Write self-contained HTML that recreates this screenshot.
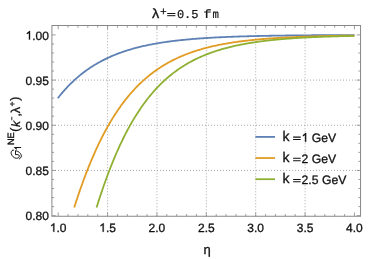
<!DOCTYPE html>
<html><head><meta charset="utf-8"><title>plot</title>
<style>html,body{margin:0;padding:0;background:#fff;}svg{display:block;}text{font-family:"Liberation Sans",sans-serif;text-rendering:geometricPrecision;stroke:#111111;stroke-width:0.3px;}</style></head>
<body>
<svg width="369" height="259" viewBox="0 0 369 259">
<rect x="0" y="0" width="369" height="259" fill="#ffffff"/>
<path d="M107.58 25.50V216.25M156.95 25.50V216.25M206.32 25.50V216.25M255.70 25.50V216.25M305.07 25.50V216.25" fill="none" stroke="#a8a8a8" stroke-width="1" stroke-dasharray="1 2" stroke-dashoffset="2.2"/>
<path d="M51.90 170.44H360.55M51.90 125.26H360.55M51.90 80.08H360.55" fill="none" stroke="#a8a8a8" stroke-width="1" stroke-dasharray="1 2" stroke-dashoffset="2.9"/>
<path d="M57.80 98.24L58.79 96.98L59.78 95.75L60.77 94.55L61.76 93.36L62.75 92.20L63.74 91.07L64.73 89.95L65.72 88.86L66.70 87.79L67.69 86.74L68.68 85.72L69.67 84.71L70.66 83.72L71.65 82.75L72.64 81.80L73.63 80.87L74.61 79.96L75.60 79.07L76.59 78.19L77.58 77.33L78.57 76.49L79.56 75.67L80.55 74.86L81.54 74.07L82.53 73.29L83.51 72.53L84.50 71.78L85.49 71.05L86.48 70.34L87.47 69.63L88.46 68.94L89.45 68.27L90.44 67.61L91.42 66.96L92.41 66.32L93.40 65.70L94.39 65.09L95.38 64.49L96.37 63.90L97.36 63.33L98.35 62.77L99.34 62.21L100.32 61.67L101.31 61.14L102.30 60.62L103.29 60.11L104.28 59.61L105.27 59.12L106.26 58.64L107.25 58.17L108.23 57.71L109.22 57.26L110.21 56.81L111.20 56.38L112.19 55.95L113.18 55.54L114.17 55.13L115.16 54.73L116.15 54.33L117.13 53.95L118.12 53.57L119.11 53.20L120.10 52.84L121.09 52.48L122.08 52.13L123.07 51.79L124.06 51.46L125.04 51.13L126.03 50.81L127.02 50.49L128.01 50.18L129.00 49.88L129.99 49.58L130.98 49.29L131.97 49.00L132.96 48.72L133.94 48.45L134.93 48.18L135.92 47.92L136.91 47.66L137.90 47.41L138.89 47.16L139.88 46.92L140.87 46.68L141.85 46.44L142.84 46.22L143.83 45.99L144.82 45.77L145.81 45.56L146.80 45.34L147.79 45.14L148.78 44.93L149.76 44.74L150.75 44.54L151.74 44.35L152.73 44.16L153.72 43.98L154.71 43.80L155.70 43.62L156.69 43.45L157.68 43.28L158.66 43.11L159.65 42.95L160.64 42.79L161.63 42.63L162.62 42.48L163.61 42.33L164.60 42.18L165.59 42.04L166.57 41.90L167.56 41.76L168.55 41.62L169.54 41.49L170.53 41.36L171.52 41.23L172.51 41.11L173.50 40.98L174.49 40.86L175.47 40.74L176.46 40.63L177.45 40.51L178.44 40.40L179.43 40.29L180.42 40.19L181.41 40.08L182.40 39.98L183.38 39.88L184.37 39.78L185.36 39.68L186.35 39.59L187.34 39.50L188.33 39.40L189.32 39.31L190.31 39.23L191.30 39.14L192.28 39.06L193.27 38.97L194.26 38.89L195.25 38.81L196.24 38.74L197.23 38.66L198.22 38.59L199.21 38.51L200.19 38.44L201.18 38.37L202.17 38.30L203.16 38.24L204.15 38.17L205.14 38.10L206.13 38.04L207.12 37.98L208.11 37.92L209.09 37.86L210.08 37.80L211.07 37.74L212.06 37.69L213.05 37.63L214.04 37.58L215.03 37.52L216.02 37.47L217.00 37.42L217.99 37.37L218.98 37.32L219.97 37.27L220.96 37.23L221.95 37.18L222.94 37.13L223.93 37.09L224.92 37.05L225.90 37.00L226.89 36.96L227.88 36.92L228.87 36.88L229.86 36.84L230.85 36.80L231.84 36.77L232.83 36.73L233.81 36.69L234.80 36.66L235.79 36.62L236.78 36.59L237.77 36.55L238.76 36.52L239.75 36.49L240.74 36.46L241.72 36.43L242.71 36.40L243.70 36.37L244.69 36.34L245.68 36.31L246.67 36.28L247.66 36.25L248.65 36.23L249.64 36.20L250.62 36.18L251.61 36.15L252.60 36.13L253.59 36.10L254.58 36.08L255.57 36.05L256.56 36.03L257.55 36.01L258.53 35.99L259.52 35.97L260.51 35.94L261.50 35.92L262.49 35.90L263.48 35.88L264.47 35.86L265.46 35.84L266.45 35.83L267.43 35.81L268.42 35.79L269.41 35.77L270.40 35.75L271.39 35.74L272.38 35.72L273.37 35.70L274.36 35.69L275.34 35.67L276.33 35.66L277.32 35.64L278.31 35.63L279.30 35.61L280.29 35.60L281.28 35.59L282.27 35.57L283.26 35.56L284.24 35.55L285.23 35.53L286.22 35.52L287.21 35.51L288.20 35.50L289.19 35.48L290.18 35.47L291.17 35.46L292.15 35.45L293.14 35.44L294.13 35.43L295.12 35.42L296.11 35.41L297.10 35.40L298.09 35.39L299.08 35.38L300.07 35.37L301.05 35.36L302.04 35.35L303.03 35.34L304.02 35.33L305.01 35.32L306.00 35.32L306.99 35.31L307.98 35.30L308.96 35.29L309.95 35.28L310.94 35.28L311.93 35.27L312.92 35.26L313.91 35.25L314.90 35.25L315.89 35.24L316.87 35.23L317.86 35.23L318.85 35.22L319.84 35.21L320.83 35.21L321.82 35.20L322.81 35.20L323.80 35.19L324.79 35.18L325.77 35.18L326.76 35.17L327.75 35.17L328.74 35.16L329.73 35.16L330.72 35.15L331.71 35.15L332.70 35.14L333.68 35.14L334.67 35.13L335.66 35.13L336.65 35.12L337.64 35.12L338.63 35.11L339.62 35.11L340.61 35.11L341.60 35.10L342.58 35.10L343.57 35.09L344.56 35.09L345.55 35.09L346.54 35.08L347.53 35.08L348.52 35.08L349.51 35.07L350.49 35.07L351.48 35.07L352.47 35.06L353.46 35.06L354.45 35.06" fill="none" stroke="#5e81b5" stroke-width="1.8" stroke-linejoin="round" stroke-linecap="butt"/>
<path d="M74.24 207.46L74.61 206.28L75.60 203.20L76.59 200.16L77.58 197.17L78.57 194.23L79.56 191.34L80.55 188.49L81.54 185.69L82.53 182.94L83.51 180.23L84.50 177.57L85.49 174.95L86.48 172.37L87.47 169.84L88.46 167.35L89.45 164.90L90.44 162.50L91.42 160.13L92.41 157.81L93.40 155.52L94.39 153.28L95.38 151.07L96.37 148.90L97.36 146.77L98.35 144.68L99.34 142.62L100.32 140.60L101.31 138.61L102.30 136.66L103.29 134.75L104.28 132.86L105.27 131.02L106.26 129.20L107.25 127.42L108.23 125.67L109.22 123.95L110.21 122.26L111.20 120.60L112.19 118.97L113.18 117.37L114.17 115.80L115.16 114.26L116.15 112.75L117.13 111.26L118.12 109.81L119.11 108.37L120.10 106.97L121.09 105.59L122.08 104.24L123.07 102.91L124.06 101.60L125.04 100.32L126.03 99.07L127.02 97.83L128.01 96.62L129.00 95.43L129.99 94.27L130.98 93.12L131.97 92.00L132.96 90.90L133.94 89.82L134.93 88.76L135.92 87.72L136.91 86.70L137.90 85.69L138.89 84.71L139.88 83.75L140.87 82.80L141.85 81.87L142.84 80.96L143.83 80.07L144.82 79.19L145.81 78.33L146.80 77.49L147.79 76.66L148.78 75.85L149.76 75.05L150.75 74.27L151.74 73.50L152.73 72.75L153.72 72.02L154.71 71.29L155.70 70.58L156.69 69.89L157.68 69.20L158.66 68.53L159.65 67.88L160.64 67.23L161.63 66.60L162.62 65.98L163.61 65.38L164.60 64.78L165.59 64.20L166.57 63.62L167.56 63.06L168.55 62.51L169.54 61.97L170.53 61.44L171.52 60.92L172.51 60.41L173.50 59.91L174.49 59.42L175.47 58.94L176.46 58.47L177.45 58.01L178.44 57.55L179.43 57.11L180.42 56.67L181.41 56.24L182.40 55.83L183.38 55.41L184.37 55.01L185.36 54.62L186.35 54.23L187.34 53.85L188.33 53.48L189.32 53.11L190.31 52.75L191.30 52.40L192.28 52.06L193.27 51.72L194.26 51.39L195.25 51.07L196.24 50.75L197.23 50.44L198.22 50.13L199.21 49.83L200.19 49.54L201.18 49.25L202.17 48.96L203.16 48.69L204.15 48.42L205.14 48.15L206.13 47.89L207.12 47.63L208.11 47.38L209.09 47.14L210.08 46.89L211.07 46.66L212.06 46.43L213.05 46.20L214.04 45.98L215.03 45.76L216.02 45.54L217.00 45.33L217.99 45.13L218.98 44.92L219.97 44.73L220.96 44.53L221.95 44.34L222.94 44.16L223.93 43.97L224.92 43.79L225.90 43.62L226.89 43.45L227.88 43.28L228.87 43.11L229.86 42.95L230.85 42.79L231.84 42.64L232.83 42.48L233.81 42.33L234.80 42.19L235.79 42.04L236.78 41.90L237.77 41.76L238.76 41.63L239.75 41.49L240.74 41.36L241.72 41.24L242.71 41.11L243.70 40.99L244.69 40.87L245.68 40.75L246.67 40.63L247.66 40.52L248.65 40.41L249.64 40.30L250.62 40.19L251.61 40.09L252.60 39.99L253.59 39.89L254.58 39.79L255.57 39.69L256.56 39.60L257.55 39.50L258.53 39.41L259.52 39.32L260.51 39.23L261.50 39.15L262.49 39.06L263.48 38.98L264.47 38.90L265.46 38.82L266.45 38.74L267.43 38.67L268.42 38.59L269.41 38.52L270.40 38.45L271.39 38.38L272.38 38.31L273.37 38.24L274.36 38.18L275.34 38.11L276.33 38.05L277.32 37.99L278.31 37.92L279.30 37.86L280.29 37.81L281.28 37.75L282.27 37.69L283.26 37.64L284.24 37.58L285.23 37.53L286.22 37.48L287.21 37.43L288.20 37.38L289.19 37.33L290.18 37.28L291.17 37.23L292.15 37.19L293.14 37.14L294.13 37.10L295.12 37.05L296.11 37.01L297.10 36.97L298.09 36.93L299.08 36.89L300.07 36.85L301.05 36.81L302.04 36.77L303.03 36.73L304.02 36.70L305.01 36.66L306.00 36.63L306.99 36.59L307.98 36.56L308.96 36.53L309.95 36.49L310.94 36.46L311.93 36.43L312.92 36.40L313.91 36.37L314.90 36.34L315.89 36.31L316.87 36.29L317.86 36.26L318.85 36.23L319.84 36.21L320.83 36.18L321.82 36.15L322.81 36.13L323.80 36.10L324.79 36.08L325.77 36.06L326.76 36.03L327.75 36.01L328.74 35.99L329.73 35.97L330.72 35.95L331.71 35.93L332.70 35.91L333.68 35.89L334.67 35.87L335.66 35.85L336.65 35.83L337.64 35.81L338.63 35.79L339.62 35.77L340.61 35.76L341.60 35.74L342.58 35.72L343.57 35.71L344.56 35.69L345.55 35.68L346.54 35.66L347.53 35.65L348.52 35.63L349.51 35.62L350.49 35.60L351.48 35.59L352.47 35.57L353.46 35.56L354.45 35.55" fill="none" stroke="#e19c24" stroke-width="1.8" stroke-linejoin="round" stroke-linecap="butt"/>
<path d="M96.58 207.46L97.36 204.99L98.35 201.88L99.34 198.82L100.32 195.80L101.31 192.84L102.30 189.92L103.29 187.04L104.28 184.22L105.27 181.44L106.26 178.70L107.25 176.01L108.23 173.37L109.22 170.77L110.21 168.21L111.20 165.70L112.19 163.23L113.18 160.81L114.17 158.42L115.16 156.08L116.15 153.77L117.13 151.51L118.12 149.29L119.11 147.11L120.10 144.96L121.09 142.86L122.08 140.79L123.07 138.76L124.06 136.77L125.04 134.81L126.03 132.89L127.02 131.00L128.01 129.15L129.00 127.33L129.99 125.54L130.98 123.79L131.97 122.07L132.96 120.38L133.94 118.73L134.93 117.10L135.92 115.51L136.91 113.94L137.90 112.40L138.89 110.90L139.88 109.42L140.87 107.97L141.85 106.54L142.84 105.15L143.83 103.78L144.82 102.43L145.81 101.11L146.80 99.82L147.79 98.55L148.78 97.31L149.76 96.08L150.75 94.89L151.74 93.71L152.73 92.56L153.72 91.43L154.71 90.32L155.70 89.23L156.69 88.17L157.68 87.12L158.66 86.10L159.65 85.09L160.64 84.11L161.63 83.14L162.62 82.19L163.61 81.26L164.60 80.35L165.59 79.45L166.57 78.58L167.56 77.72L168.55 76.87L169.54 76.05L170.53 75.24L171.52 74.44L172.51 73.66L173.50 72.90L174.49 72.15L175.47 71.42L176.46 70.70L177.45 69.99L178.44 69.30L179.43 68.62L180.42 67.95L181.41 67.30L182.40 66.66L183.38 66.03L184.37 65.42L185.36 64.82L186.35 64.23L187.34 63.65L188.33 63.08L189.32 62.52L190.31 61.98L191.30 61.44L192.28 60.92L193.27 60.40L194.26 59.90L195.25 59.40L196.24 58.92L197.23 58.44L198.22 57.98L199.21 57.52L200.19 57.07L201.18 56.64L202.17 56.21L203.16 55.78L204.15 55.37L205.14 54.97L206.13 54.57L207.12 54.18L208.11 53.80L209.09 53.42L210.08 53.06L211.07 52.70L212.06 52.35L213.05 52.00L214.04 51.66L215.03 51.33L216.02 51.00L217.00 50.69L217.99 50.37L218.98 50.07L219.97 49.77L220.96 49.47L221.95 49.18L222.94 48.90L223.93 48.62L224.92 48.35L225.90 48.08L226.89 47.82L227.88 47.57L228.87 47.32L229.86 47.07L230.85 46.83L231.84 46.59L232.83 46.36L233.81 46.13L234.80 45.91L235.79 45.69L236.78 45.48L237.77 45.27L238.76 45.06L239.75 44.86L240.74 44.67L241.72 44.47L242.71 44.28L243.70 44.10L244.69 43.91L245.68 43.74L246.67 43.56L247.66 43.39L248.65 43.22L249.64 43.06L250.62 42.89L251.61 42.74L252.60 42.58L253.59 42.43L254.58 42.28L255.57 42.13L256.56 41.99L257.55 41.85L258.53 41.71L259.52 41.58L260.51 41.44L261.50 41.31L262.49 41.19L263.48 41.06L264.47 40.94L265.46 40.82L266.45 40.70L267.43 40.59L268.42 40.48L269.41 40.36L270.40 40.26L271.39 40.15L272.38 40.05L273.37 39.94L274.36 39.84L275.34 39.75L276.33 39.65L277.32 39.56L278.31 39.46L279.30 39.37L280.29 39.28L281.28 39.20L282.27 39.11L283.26 39.03L284.24 38.95L285.23 38.87L286.22 38.79L287.21 38.71L288.20 38.64L289.19 38.56L290.18 38.49L291.17 38.42L292.15 38.35L293.14 38.28L294.13 38.21L295.12 38.15L296.11 38.08L297.10 38.02L298.09 37.96L299.08 37.90L300.07 37.84L301.05 37.78L302.04 37.72L303.03 37.67L304.02 37.61L305.01 37.56L306.00 37.51L306.99 37.45L307.98 37.40L308.96 37.35L309.95 37.30L310.94 37.26L311.93 37.21L312.92 37.16L313.91 37.12L314.90 37.08L315.89 37.03L316.87 36.99L317.86 36.95L318.85 36.91L319.84 36.87L320.83 36.83L321.82 36.79L322.81 36.75L323.80 36.72L324.79 36.68L325.77 36.65L326.76 36.61L327.75 36.58L328.74 36.54L329.73 36.51L330.72 36.48L331.71 36.45L332.70 36.42L333.68 36.39L334.67 36.36L335.66 36.33L336.65 36.30L337.64 36.27L338.63 36.25L339.62 36.22L340.61 36.19L341.60 36.17L342.58 36.14L343.57 36.12L344.56 36.09L345.55 36.07L346.54 36.05L347.53 36.02L348.52 36.00L349.51 35.98L350.49 35.96L351.48 35.94L352.47 35.92L353.46 35.90L354.45 35.88" fill="none" stroke="#8fb032" stroke-width="1.8" stroke-linejoin="round" stroke-linecap="butt"/>
<rect x="51.9" y="25.5" width="308.65" height="190.75" fill="none" stroke="#888888" stroke-width="1"/>
<path d="M58.20 216.25v-3.8M58.20 25.50v3.8M68.08 216.25v-2.2M68.08 25.50v2.2M77.95 216.25v-2.2M77.95 25.50v2.2M87.83 216.25v-2.2M87.83 25.50v2.2M97.70 216.25v-2.2M97.70 25.50v2.2M107.58 216.25v-3.8M107.58 25.50v3.8M117.45 216.25v-2.2M117.45 25.50v2.2M127.33 216.25v-2.2M127.33 25.50v2.2M137.20 216.25v-2.2M137.20 25.50v2.2M147.07 216.25v-2.2M147.07 25.50v2.2M156.95 216.25v-3.8M156.95 25.50v3.8M166.83 216.25v-2.2M166.83 25.50v2.2M176.70 216.25v-2.2M176.70 25.50v2.2M186.57 216.25v-2.2M186.57 25.50v2.2M196.45 216.25v-2.2M196.45 25.50v2.2M206.32 216.25v-3.8M206.32 25.50v3.8M216.20 216.25v-2.2M216.20 25.50v2.2M226.08 216.25v-2.2M226.08 25.50v2.2M235.95 216.25v-2.2M235.95 25.50v2.2M245.82 216.25v-2.2M245.82 25.50v2.2M255.70 216.25v-3.8M255.70 25.50v3.8M265.57 216.25v-2.2M265.57 25.50v2.2M275.45 216.25v-2.2M275.45 25.50v2.2M285.32 216.25v-2.2M285.32 25.50v2.2M295.20 216.25v-2.2M295.20 25.50v2.2M305.07 216.25v-3.8M305.07 25.50v3.8M314.95 216.25v-2.2M314.95 25.50v2.2M324.82 216.25v-2.2M324.82 25.50v2.2M334.70 216.25v-2.2M334.70 25.50v2.2M344.57 216.25v-2.2M344.57 25.50v2.2M354.45 216.25v-3.8M354.45 25.50v3.8M51.90 215.62h3.8M360.55 215.62h-3.8M51.90 206.58h2.2M360.55 206.58h-2.2M51.90 197.55h2.2M360.55 197.55h-2.2M51.90 188.51h2.2M360.55 188.51h-2.2M51.90 179.48h2.2M360.55 179.48h-2.2M51.90 170.44h3.8M360.55 170.44h-3.8M51.90 161.40h2.2M360.55 161.40h-2.2M51.90 152.37h2.2M360.55 152.37h-2.2M51.90 143.33h2.2M360.55 143.33h-2.2M51.90 134.30h2.2M360.55 134.30h-2.2M51.90 125.26h3.8M360.55 125.26h-3.8M51.90 116.22h2.2M360.55 116.22h-2.2M51.90 107.19h2.2M360.55 107.19h-2.2M51.90 98.15h2.2M360.55 98.15h-2.2M51.90 89.12h2.2M360.55 89.12h-2.2M51.90 80.08h3.8M360.55 80.08h-3.8M51.90 71.04h2.2M360.55 71.04h-2.2M51.90 62.01h2.2M360.55 62.01h-2.2M51.90 52.97h2.2M360.55 52.97h-2.2M51.90 43.94h2.2M360.55 43.94h-2.2M51.90 34.90h3.8M360.55 34.90h-3.8" fill="none" stroke="#888888" stroke-width="0.8"/>
<defs><filter id="ga" x="0" y="0" width="369" height="259" filterUnits="userSpaceOnUse" color-interpolation-filters="sRGB"><feOffset dx="0" dy="0"/></filter></defs>
<g filter="url(#ga)" style="will-change:transform">
<path d="M54.33 231.80L53.28 231.80L53.28 225.08Q52.38 225.80 51.17 226.23L51.17 225.21Q52.86 224.36 53.65 223.21L54.33 223.21Z" fill="#111111" stroke="#111111" stroke-width="0.3"/>
<text x="56.53" y="231.8" font-size="12" fill="#111111">.0</text>
<path d="M103.71 231.80L102.65 231.80L102.65 225.08Q101.75 225.80 100.54 226.23L100.54 225.21Q102.23 224.36 103.03 223.21L103.71 223.21Z" fill="#111111" stroke="#111111" stroke-width="0.3"/>
<text x="105.91" y="231.8" font-size="12" fill="#111111">.5</text>
<text x="156.95" y="231.8" font-size="12" text-anchor="middle" fill="#111111">2.0</text>
<text x="206.32" y="231.8" font-size="12" text-anchor="middle" fill="#111111">2.5</text>
<text x="255.70" y="231.8" font-size="12" text-anchor="middle" fill="#111111">3.0</text>
<text x="305.07" y="231.8" font-size="12" text-anchor="middle" fill="#111111">3.5</text>
<text x="354.45" y="231.8" font-size="12" text-anchor="middle" fill="#111111">4.0</text>
<text x="48.9" y="220.32" font-size="12" text-anchor="end" fill="#111111">0.80</text>
<text x="48.9" y="175.14" font-size="12" text-anchor="end" fill="#111111">0.85</text>
<text x="48.9" y="129.96" font-size="12" text-anchor="end" fill="#111111">0.90</text>
<text x="48.9" y="84.78" font-size="12" text-anchor="end" fill="#111111">0.95</text>
<path d="M30.02 39.60L28.96 39.60L28.96 32.88Q28.07 33.60 26.86 34.03L26.86 33.01Q28.55 32.16 29.34 31.01L30.02 31.01Z" fill="#111111" stroke="#111111" stroke-width="0.3"/>
<text x="32.22" y="39.60" font-size="12" fill="#111111">.00</text>
<text x="207.1" y="253.9" font-size="13" text-anchor="middle" fill="#111111">η</text>
<text transform="translate(151.9 18.2) scale(1 0.92)" font-size="14.5" fill="#111111">λ</text>
<text x="160.2" y="14.5" font-size="10.8" fill="#111111">+</text>
<path d="M167.2 13.5H175.4M167.2 15.7H175.4" stroke="#111111" stroke-width="1.0" fill="none"/>
<text x="176.9" y="17.9" font-size="12" fill="#111111" style="font-family:'Liberation Mono',monospace;stroke-width:0.2px">0.5</text>
<text x="203.2" y="17.9" font-size="12" fill="#111111" style="font-family:'Liberation Mono',monospace;stroke-width:0.2px" textLength="8.5" lengthAdjust="spacingAndGlyphs">f</text>
<text x="212.6" y="17.9" font-size="12" fill="#111111" style="font-family:'Liberation Mono',monospace;stroke-width:0.2px" textLength="6.4" lengthAdjust="spacingAndGlyphs">m</text>
<path d="M255.4 136.90H275" stroke="#5e81b5" stroke-width="1.8" fill="none"/>
<text x="282.6" y="141.10" font-size="14" fill="#111111">k</text>
<path d="M293.1 137.10H300.7M293.1 139.50H300.7" stroke="#111111" stroke-width="1.05" fill="none"/>
<path d="M306.15 141.80L305.07 141.80L305.07 134.97Q304.16 135.70 302.93 136.14L302.93 135.10Q304.65 134.24 305.46 133.06L306.15 133.06Z" fill="#111111" stroke="#111111" stroke-width="0.3"/>
<text x="308.38" y="141.80" font-size="12.2" fill="#111111" xml:space="preserve"> GeV</text>
<path d="M255.4 158.05H275" stroke="#e19c24" stroke-width="1.8" fill="none"/>
<text x="282.6" y="162.25" font-size="14" fill="#111111">k</text>
<path d="M293.1 158.25H300.7M293.1 160.65H300.7" stroke="#111111" stroke-width="1.05" fill="none"/>
<text x="301.6" y="162.95" font-size="12.2" fill="#111111">2 GeV</text>
<path d="M255.4 179.20H275" stroke="#8fb032" stroke-width="1.8" fill="none"/>
<text x="282.6" y="183.40" font-size="14" fill="#111111">k</text>
<path d="M293.1 179.40H300.7M293.1 181.80H300.7" stroke="#111111" stroke-width="1.05" fill="none"/>
<text x="301.6" y="184.10" font-size="12.2" fill="#111111">2.5 GeV</text>
<g transform="translate(19.6 159) rotate(-90)" fill="#111111">
<path d="M8.8 -6.7C8.6 -8.0 7.2 -8.7 5.6 -8.45C3.2 -8.0 0.7 -5.6 0.7 -3.0C0.7 -1.2 1.8 -0.1 3.2 -0.3C4.3 -0.5 4.7 -2.0 4.3 -4.1L8.4 -4.1C7.9 -2.5 7.4 -1.2 6.6 -0.2C5.6 1.0 4.2 1.8 2.9 1.7C1.6 1.6 0.5 0.8 0.1 -0.3" fill="none" stroke="#111111" stroke-width="0.95" stroke-linecap="round" stroke-linejoin="round"/>
<circle cx="8.7" cy="-6.6" r="0.7" fill="#111111"/>
<path d="M11.5 1.5L11.5 -4.6L9.6 -2.9" fill="none" stroke="#111111" stroke-width="1.15" stroke-linejoin="miter"/>
<text x="13.9" y="-5.4" font-size="9.2" style="stroke-width:0.35px">NE</text>
<text x="27.2" y="-0.4" font-size="12.4">(</text>
<text x="32.0" y="-0.1" font-size="12" font-style="italic" textLength="6.0" lengthAdjust="spacingAndGlyphs">k</text>
<text x="38.45" y="-6.1" font-size="6.5">−</text>
<text x="42.4" y="0" font-size="12">,</text>
<text x="45.8" y="0.3" font-size="12.8">λ</text>
<text x="52.6" y="-5.1" font-size="8.5">+</text>
<text x="58.2" y="-0.4" font-size="12.4">)</text>
</g>
</g>
</svg></body></html>
